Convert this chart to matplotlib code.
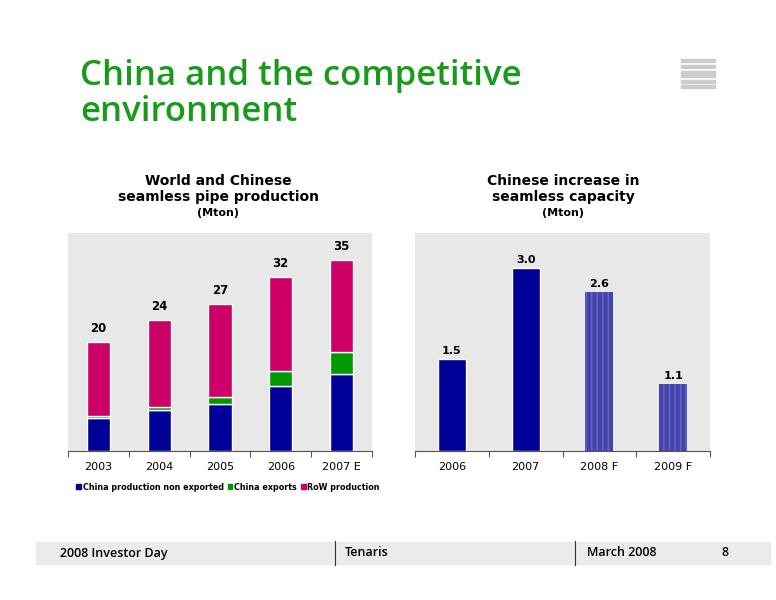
import numpy as np
import matplotlib.pyplot as plt
import matplotlib.patches as mpatches

# ---------- data ----------
years_l = ['2003', '2004', '2005', '2006', '2007 E']
china_non_exp = [6.0, 7.5, 8.6, 12.0, 14.1]
china_exp = [0.5, 0.6, 1.4, 2.7, 4.0]
row_prod = [13.5, 15.9, 17.0, 17.3, 16.9]
totals_l = ['20', '24', '27', '32', '35']

years_r = ['2006', '2007', '2008 F', '2009 F']
capacity = [1.5, 3.0, 2.6, 1.1]
cap_labels = ['1.5', '3.0', '2.6', '1.1']
forecast = [False, False, True, True]

W, H = 776, 600
fig = plt.figure(figsize=(W / 100, H / 100), dpi=100)
fig.patch.set_facecolor('white')

def ax_rect(x0, y0, x1, y1):
    return [x0 / W, 1 - y1 / H, (x1 - x0) / W, (y1 - y0) / H]

GREEN_T = '#1a9a1a'
BLUE = '#000099'
GREEN = '#009900'
MAG = '#cc0066'
BG = '#e8e8e8'

fig.text(80 / W, 1 - 94 / H, 'China and the competitive\nenvironment', color=GREEN_T,
         fontsize=25, family='Open Sans', fontweight='semibold', va='center', ha='left',
         linespacing=1.05)

# logo stripes
for y0, h in [(59, 3), (65, 3), (71, 6), (80, 3), (85, 3)]:
    fig.patches.append(mpatches.Rectangle((681 / W, 1 - (y0 + h) / H), 34 / W, h / H,
                                          transform=fig.transFigure, color='#cccccc'))

# ---------- left chart ----------
ax = fig.add_axes(ax_rect(68, 233, 372, 451))
ax.set_facecolor(BG)
x = np.arange(len(years_l))
bw = 0.38
ax.bar(x, china_non_exp, bw, color=BLUE, edgecolor='white', linewidth=1)
b2 = np.array(china_non_exp)
ax.bar(x, china_exp, bw, bottom=b2, color=GREEN, edgecolor='white', linewidth=1)
b3 = b2 + np.array(china_exp)
ax.bar(x, row_prod, bw, bottom=b3, color=MAG, edgecolor='white', linewidth=1)
tops = b3 + np.array(row_prod)
for xi, t, lab in zip(x, tops, totals_l):
    ax.text(xi, t + 1.3, lab, ha='center', va='bottom', fontsize=8.5, fontweight='bold')
ax.set_xlim(-0.5, len(years_l) - 0.5)
ax.set_ylim(0, 40)
ax.set_yticks([])
ax.set_xticks(np.arange(len(years_l) + 1) - 0.5, minor=False)
ax.set_xticklabels([])
ax.set_xticks(x, minor=True)
ax.set_xticklabels(years_l, minor=True, fontsize=8)
ax.tick_params(axis='x', which='major', length=4, color='#555555')
ax.tick_params(axis='x', which='minor', length=0, pad=8)
for s in ['top', 'right', 'left']:
    ax.spines[s].set_visible(False)
ax.spines['bottom'].set_color('#555555')
fig.text(218 / W, 1 - 189 / H, 'World and Chinese\nseamless pipe production',
         ha='center', va='center', fontsize=10, fontweight='bold', linespacing=1.2)
fig.text(218 / W, 1 - 213 / H, '(Mton)', ha='center', va='center', fontsize=8, fontweight='bold')
handles = [mpatches.Patch(color=c) for c in (BLUE, GREEN, MAG)]
fig.legend(handles, ['China production non exported', 'China exports', 'RoW production'],
           loc='center', bbox_to_anchor=(228 / W, 1 - 487 / H), ncol=3, frameon=False,
           handlelength=0.6, handleheight=0.6, handletextpad=0.2,
           columnspacing=0.5, prop={'weight': 'bold', 'size': 5.8})

# ---------- right chart ----------
ax2 = fig.add_axes(ax_rect(415, 233, 710, 451))
ax2.set_facecolor(BG)
xr = np.arange(len(years_r))
for xi, v, f in zip(xr, capacity, forecast):
    if f:
        ax2.bar(xi, v, 0.38, color='#4444aa', edgecolor='#6666cc', hatch='|||', linewidth=0)
    else:
        ax2.bar(xi, v, 0.38, color=BLUE, edgecolor='white', linewidth=1)
for xi, v, lab in zip(xr, capacity, cap_labels):
    ax2.text(xi, v + 0.05, lab, ha='center', va='bottom', fontsize=8, fontweight='bold')
ax2.set_xlim(-0.5, len(years_r) - 0.5)
ax2.set_ylim(0, 3.57)
ax2.set_yticks([])
ax2.set_xticks(np.arange(len(years_r) + 1) - 0.5)
ax2.set_xticklabels([])
ax2.set_xticks(xr, minor=True)
ax2.set_xticklabels(years_r, minor=True, fontsize=8)
ax2.tick_params(axis='x', which='major', length=4, color='#555555')
ax2.tick_params(axis='x', which='minor', length=0, pad=8)
for s in ['top', 'right', 'left']:
    ax2.spines[s].set_visible(False)
ax2.spines['bottom'].set_color('#555555')
fig.text(563 / W, 1 - 189 / H, 'Chinese increase in\nseamless capacity',
         ha='center', va='center', fontsize=10, fontweight='bold', linespacing=1.2)
fig.text(563 / W, 1 - 213 / H, '(Mton)', ha='center', va='center', fontsize=8, fontweight='bold')

# ---------- footer ----------
fig.patches.append(mpatches.Rectangle((36 / W, 1 - 564 / H), 734 / W, 22 / H,
                                      transform=fig.transFigure, color='#ebebeb'))
for xv in (335, 575):
    fig.lines.append(plt.Line2D([xv / W, xv / W], [1 - 565 / H, 1 - 541 / H],
                                transform=fig.transFigure, color='#333333', lw=0.8))
for xt, t in [(60, '2008 Investor Day'), (345, 'Tenaris'), (587, 'March 2008'), (722, '8')]:
    fig.text(xt / W, 1 - 553 / H, t, fontsize=9, va='center', family='Open Sans',
             fontweight='semibold')

fig.savefig('out.png', dpi=100)
